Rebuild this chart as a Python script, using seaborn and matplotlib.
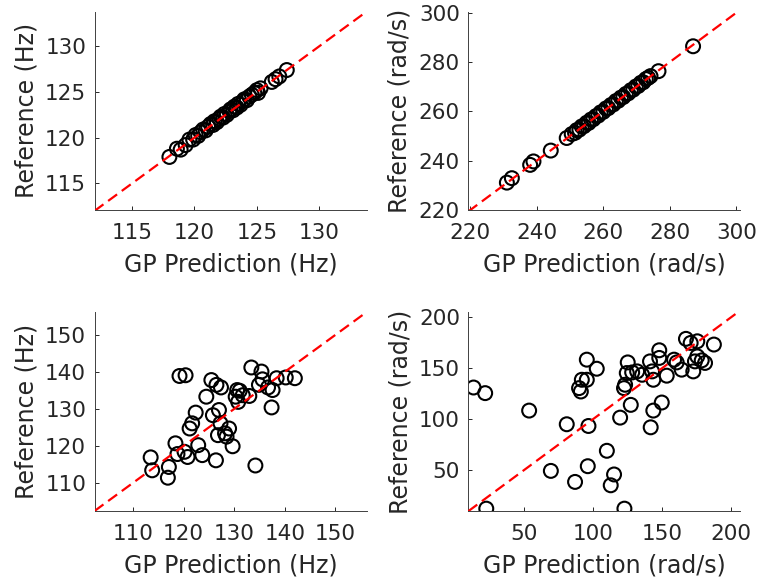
import matplotlib
matplotlib.use("Agg")
import matplotlib.pyplot as plt
import seaborn as sns
import pandas as pd

# ---------------- data ----------------
# Panel 1: frequency (Hz), training fit
f_pred = [118.0, 118.6, 118.9, 119.3, 119.6, 119.9, 120.1, 120.3, 120.5, 120.7,
          120.9, 121.1, 121.3, 121.5, 121.6, 121.8, 122.0, 122.1, 122.3, 122.4,
          122.6, 122.8, 122.9, 123.1, 123.2, 123.4, 123.5, 123.7, 123.9, 124.0,
          124.2, 124.4, 124.6, 124.8, 125.0, 125.1, 125.3, 126.2, 126.5, 126.8,
          127.4]
f_ref = [117.9, 118.8, 118.7, 119.2, 119.8, 119.8, 120.3, 120.2, 120.6, 120.9,
         120.8, 121.2, 121.5, 121.4, 121.8, 121.7, 122.1, 122.3, 122.2, 122.6,
         122.5, 122.9, 123.1, 123.0, 123.4, 123.3, 123.7, 123.6, 124.0, 124.2,
         124.1, 124.5, 124.7, 124.9, 125.2, 124.9, 125.4, 126.1, 126.4, 126.7,
         127.4]

# Panel 2: angular rate (rad/s), training fit
w_pred = [231.0, 232.5, 238.0, 239.0, 244.2, 249.0, 250.5, 251.5, 252.0, 252.8,
          253.5, 254.2, 255.0, 255.6, 256.3, 257.0, 257.8, 258.5, 259.2, 260.0,
          260.8, 261.5, 262.3, 263.0, 263.8, 264.5, 265.3, 266.0, 266.8, 267.5,
          268.3, 269.0, 269.8, 270.5, 271.3, 272.0, 272.8, 273.5, 274.2, 276.6,
          287.0]
w_ref = [231.1, 232.9, 238.3, 239.7, 244.1, 249.2, 250.8, 251.3, 252.4, 252.6,
         253.9, 254.0, 255.4, 255.3, 256.7, 256.8, 258.1, 258.3, 259.6, 259.8,
         261.2, 261.3, 262.6, 262.8, 264.2, 264.3, 265.6, 265.8, 267.1, 267.3,
         268.6, 268.8, 270.1, 270.3, 271.6, 271.8, 273.1, 273.6, 274.3, 276.3,
         286.4]

# Panel 3: frequency (Hz), validation
fv_pred = [113.5, 113.8, 116.9, 117.1, 118.4, 118.8, 119.2, 120.4, 120.2, 120.8,
           121.2, 121.7, 122.4, 122.9, 123.7, 124.5, 125.5, 125.8, 126.4, 126.5,
           127.4, 127.0, 127.3, 126.8, 128.2, 129.0, 128.5, 129.7, 130.3, 130.8,
           131.1, 131.7, 130.6, 133.0, 133.4, 134.2, 135.4, 135.6, 134.9, 136.7,
           137.6, 137.4, 138.4, 140.2, 142.0]
fv_ref = [116.9, 113.4, 111.4, 114.3, 120.7, 117.8, 138.9, 139.1, 118.4, 117.0,
          124.7, 126.1, 129.0, 120.2, 117.5, 133.3, 137.8, 128.3, 116.1, 136.5,
          135.8, 129.7, 126.1, 122.9, 123.4, 124.7, 122.5, 119.9, 133.3, 131.9,
          134.9, 133.7, 135.1, 133.5, 141.2, 114.7, 140.1, 138.0, 136.5, 135.8,
          135.1, 130.4, 138.3, 138.5, 138.3]

# Panel 4: angular rate (rad/s), validation
wv_pred = [13.6, 22.0, 22.8, 53.8, 69.5, 81.0, 87.0, 89.9, 91.2, 91.9,
           95.5, 95.5, 96.7, 96.2, 102.7, 110.0, 115.2, 112.8, 119.6, 122.4,
           123.2, 124.4, 125.1, 122.7, 127.3, 128.3, 131.9, 135.5, 141.7, 143.6,
           149.7, 141.2, 143.6, 147.9, 147.9, 153.3, 142.7, 158.6, 160.5, 164.1,
           167.2, 170.6, 175.4, 172.5, 173.7, 175.4, 178.6, 181.0, 187.4]
wv_ref = [131.0, 125.5, 12.3, 108.4, 49.3, 95.0, 38.5, 130.4, 127.1, 138.6,
          138.6, 158.3, 93.3, 53.9, 149.4, 69.0, 45.8, 35.2, 101.5, 130.4,
          133.7, 145.2, 155.6, 12.3, 114.0, 145.8, 146.8, 143.5, 92.0, 108.4,
          116.3, 156.6, 138.6, 167.5, 160.0, 142.6, 146.8, 158.3, 155.6, 148.5,
          178.7, 174.7, 176.3, 146.8, 156.6, 161.5, 157.6, 155.1, 173.1]

x_titles = ["GP Prediction (Hz)", "GP Prediction (rad/s)",
            "GP Prediction (Hz)", "GP Prediction (rad/s)"]
y_titles = ["Reference (Hz)", "Reference (rad/s)",
            "Reference (Hz)", "Reference (rad/s)"]
x_ticks = [[115, 120, 125, 130], [220, 240, 260, 280, 300],
           [110, 120, 130, 140, 150], [50, 100, 150, 200]]
y_ticks = [[115, 120, 125, 130], [220, 240, 260, 280, 300],
           [110, 120, 130, 140, 150], [50, 100, 150, 200]]

# ---------------- style ----------------
sns.set_theme(style="white")
plt.rcParams["font.family"] = ["DejaVu Sans"]
TXT = "#262626"

fig = plt.figure(figsize=(7.58, 5.81), dpi=100)
W, H = 758.0, 581.0
boxes = [(94.5, 11.5, 366.7, 210.0), (468.3, 11.5, 740.3, 210.0),
         (94.5, 312.0, 366.7, 511.0), (468.3, 312.0, 740.3, 511.0)]
xlims = [(112.0, 133.8), (219.4, 301.2), (102.4, 156.2), (9.8, 206.5)]
ylims = [(112.1, 133.8), (220.0, 300.5), (102.4, 156.2), (10.0, 205.0)]

datasets = [(f_pred, f_ref), (w_pred, w_ref), (fv_pred, fv_ref), (wv_pred, wv_ref)]

for i, (px, py) in enumerate(datasets):
    l, t, r, b = boxes[i]
    ax = fig.add_axes([l / W, (H - b) / H, (r - l) / W, (b - t) / H])
    df = pd.DataFrame({"pred": px, "ref": py})
    lo = min(xlims[i][0], ylims[i][0])
    hi = max(xlims[i][1], ylims[i][1])
    diag = pd.DataFrame({"x": [lo, hi], "y": [lo, hi]})
    sns.scatterplot(data=df, x="pred", y="ref", ax=ax, marker="o", s=100,
                    facecolors="none", edgecolor="black", linewidth=1.5,
                    zorder=2)
    sns.lineplot(data=diag, x="x", y="y", ax=ax, color="#ff0000",
                 linewidth=1.6, dashes=False, zorder=3)
    ax.lines[-1].set_dashes((5, 2.6))
    ax.set_xlim(*xlims[i])
    ax.set_ylim(*ylims[i])
    ax.set_xticks(x_ticks[i])
    ax.set_yticks(y_ticks[i])
    ax.set_xlabel(x_titles[i], fontsize=17, color=TXT, labelpad=7)
    ax.set_ylabel(y_titles[i], fontsize=17, color=TXT, labelpad=5)
    ax.tick_params(axis="both", direction="in", length=3, width=0.7,
                   colors=TXT, labelsize=15.5, bottom=True, left=True)
    ax.tick_params(axis="x", pad=9.5)
    ax.tick_params(axis="y", pad=6)
    for side in ["top", "right"]:
        ax.spines[side].set_visible(False)
    for side in ["left", "bottom"]:
        ax.spines[side].set_color("#404040")
        ax.spines[side].set_linewidth(0.7)
    ax.grid(False)

fig.savefig("out.png", dpi=100)
